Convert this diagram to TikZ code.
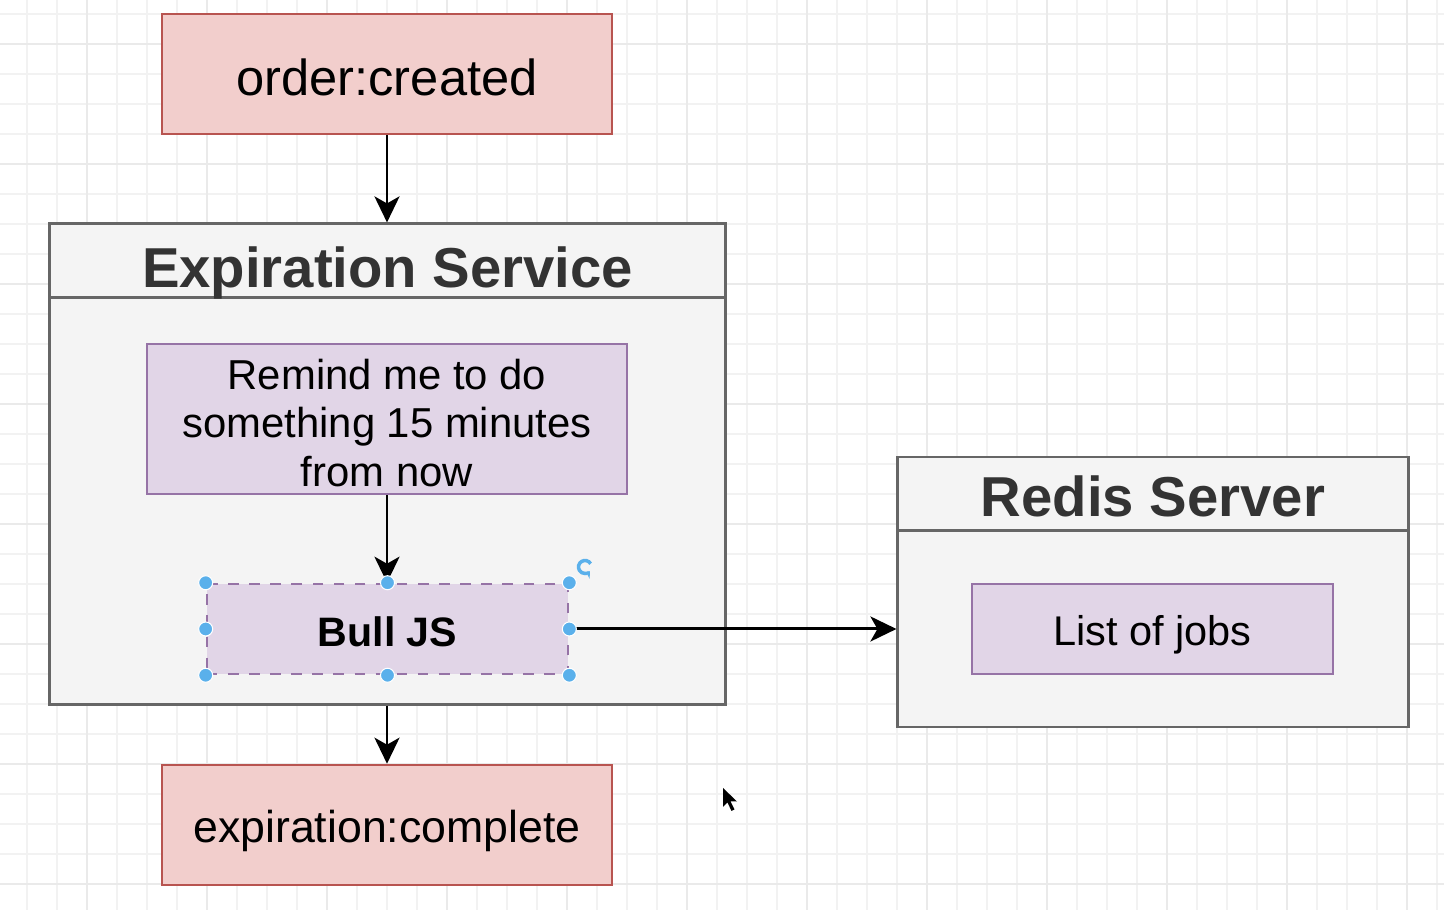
\documentclass[tikz,border=0pt]{standalone}
\usepackage{fontspec}
\setmainfont{Liberation Sans}
\usepackage{tikz}
\usetikzlibrary{arrows.meta}
\definecolor{pinkfill}{HTML}{F2CECC}
\definecolor{pinkline}{HTML}{B85450}
\definecolor{purplefill}{HTML}{E1D5E7}
\definecolor{purpleline}{HTML}{9673A6}
\definecolor{greyfill}{HTML}{F4F4F4}
\definecolor{greyline}{HTML}{666666}
\definecolor{titlegrey}{HTML}{333333}
\definecolor{handleblue}{HTML}{5AB0EB}
\definecolor{gridminor}{HTML}{F2F2F2}
\definecolor{gridmajor}{HTML}{EAEAEA}

\begin{document}
\begin{tikzpicture}[x=0.01cm,y=-0.01cm,
 pinkbox/.style={draw=pinkline,fill=pinkfill,line width=0.7pt,inner sep=0pt,minimum width=4.5cm,minimum height=1.2cm,text depth=0pt},
 purplebox/.style={draw=purpleline,fill=purplefill,line width=0.7pt,inner sep=0pt,minimum height=0.9cm,minimum width=3.61cm,text depth=0pt},
 greybox/.style={draw=greyline,fill=greyfill,line width=0.8pt,inner sep=0pt},
 boxtitle/.style={anchor=base,text=titlegrey,font=\bfseries\fontsize{16}{19}\selectfont},
 conn/.style={line width=0.85pt,-{Stealth[length=0.26cm,width=0.25cm,inset=0.07cm]}},
 handle/.style={fill=handleblue,draw=white,line width=0.3pt}]
 \fill[white](0,0) rectangle (1444,910);
 \useasboundingbox (0,0) rectangle (1444,910);
 %grid
 \foreach \gx in {27,57,...,1437} \draw[gridminor,line width=0.4pt](\gx,0) -- (\gx,910);
 \foreach \gy in {14,44,...,904} \draw[gridminor,line width=0.4pt](0,\gy) -- (1444,\gy);
 \foreach \gx in {87,207,...,1407} \draw[gridmajor,line width=0.4pt](\gx,0) -- (\gx,910);
 \foreach \gy in {44,164,...,884} \draw[gridmajor,line width=0.4pt](0,\gy) -- (1444,\gy);

 %order created
 \node[pinkbox,text height=12pt,font=\fontsize{14.4}{17}\selectfont] (OC) at (387,74) {order:created};

 %expiration service
 \node[greybox,minimum width=6.75cm,minimum height=4.8cm] (ES) at (387.5,464) {};
 \draw[greyline,line width=0.8pt]([yshift=-0.75cm]ES.north west) -- ([yshift=-0.75cm]ES.north east);
 \node[boxtitle] (EST) at (387.5,288) {Expiration Service};
 \node[purplebox,minimum width=4.8cm,minimum height=1.5cm] (RM) at (387,419) {};
 \node[align=center,font=\fontsize{11.9}{13.8}\selectfont] (RMT) at (387,423) {Remind me to do\\something 15 minutes\\from now};
 \node[purplebox,dashed,text height=10.2pt,font=\bfseries\fontsize{11.7}{14}\selectfont] (BJ) at (387.5,629) {Bull JS};
 \draw[conn](RM.south) -- (RM.south |- BJ.north);

 %redis server
 \node[greybox,minimum width=5.1cm,minimum height=2.7cm] (RS) at (1153,592) {};
 \draw[greyline,line width=0.8pt]([yshift=-0.75cm]RS.north west) -- ([yshift=-0.75cm]RS.north east);
 \node[boxtitle] (RST) at (1153,517) {Redis Server};
 \node[purplebox,text height=9.2pt,font=\fontsize{11.8}{14}\selectfont] (LJ) at (1152.5,629) {List of jobs};

 %expiration complete
 \node[pinkbox,text height=9.8pt,font=\fontsize{12.7}{15}\selectfont] (EC) at (387,825) {expiration:complete};

 \draw[conn](OC.south) -- (OC.south |- ES.north);
 \draw[conn](BJ.east) -- (BJ.east -| RS.west);
 \draw[conn](ES.south -| OC.south) -- (EC.north);

 %selection handles
 \foreach \a in {north west,north,north east,west,east,south west,south,south east}
  \filldraw[handle](BJ.\a) circle[radius=0.07cm];
 \coordinate (rot) at (585,567);
 \draw[handleblue,line width=1pt,-{Stealth[length=0.06cm,width=0.09cm]}]([shift={(30:0.065cm)}]rot) arc[start angle=30,end angle=320,radius=0.065cm];

 %cursor
 \coordinate (cur) at (723,788);
 \fill[black](cur) -- ++(0,19) -- ++(4.5,-4.5) -- ++(4,8.5) -- ++(3,-1.5) -- ++(-4,-8) -- ++(6.5,0) -- cycle;
\end{tikzpicture}
\end{document}
